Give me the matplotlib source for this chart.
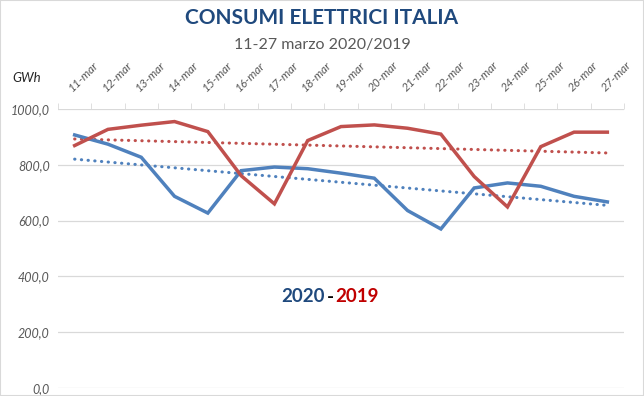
import numpy as np
import matplotlib
matplotlib.use("Agg")
import matplotlib.pyplot as plt
from matplotlib.patches import Rectangle

plt.rcParams['font.family'] = ['Lato', 'DejaVu Sans']

# data (GWh)
giorni = ['11-mar', '12-mar', '13-mar', '14-mar', '15-mar', '16-mar', '17-mar', '18-mar', '19-mar',
          '20-mar', '21-mar', '22-mar', '23-mar', '24-mar', '25-mar', '26-mar', '27-mar']
cons_2020 = [907, 874, 827, 687, 627, 779, 792, 786, 770, 752, 636, 570, 717, 735, 723, 687, 667]
cons_2019 = [869, 927, 942, 955, 919, 761, 660, 887, 937, 943, 931, 910, 758, 649, 865, 917, 917]
y_ticks = [0, 200, 400, 600, 800, 1000]

blu = '#4F81BD'
rosso = '#C0504D'
grigio = '#595959'

fig = plt.figure(figsize=(6.44, 3.96), dpi=100)
ax = fig.add_axes([58 / 644, 8 / 396, 566 / 644, 279 / 396])

x = np.arange(len(giorni))
ax.plot(x, cons_2020, color=blu, lw=2.5, solid_joinstyle='miter', zorder=3)
ax.plot(x, cons_2019, color=rosso, lw=2.5, solid_joinstyle='miter', zorder=3)

# linear trend lines (as Excel does)
for serie, col in [(cons_2020, blu), (cons_2019, rosso)]:
    m, q = np.polyfit(x, serie, 1)
    ax.plot(x, m * x + q, color=col, lw=2.2, linestyle=(0, (0.1, 2.1)),
            dash_capstyle='round', zorder=2)

ax.set_xlim(-0.5, len(giorni) - 0.5)
ax.set_ylim(0, 1000)

ax.set_yticks(y_ticks)
ax.set_yticklabels([f"{v:.1f}".replace('.', ',') for v in y_ticks],
                   fontsize=9, color=grigio, style='italic')
ax.tick_params(axis='y', length=0, pad=6)
ax.grid(axis='y', color='#D9D9D9', lw=0.9)
ax.set_axisbelow(True)

ax.xaxis.tick_top()
ax.set_xticks(x)
ax.set_xticklabels(giorni, rotation=45, ha='left', va='bottom',
                   rotation_mode='anchor', fontsize=8.5, color=grigio, style='italic')
ax.tick_params(axis='x', which='major', length=0, pad=11)
ax.set_xticks(np.arange(-0.5, len(giorni), 1), minor=True)
ax.tick_params(axis='x', which='minor', length=4, color='#D9D9D9', top=True, bottom=False)

for s in ax.spines.values():
    s.set_visible(False)

fig.text(322 / 644, 1 - 18 / 396, 'CONSUMI ELETTRICI ITALIA', ha='center', va='center',
         fontsize=15, fontweight='bold', color='#1F497D')
fig.text(322 / 644, 1 - 45 / 396, '11-27 marzo 2020/2019', ha='center', va='center',
         fontsize=11.5, color=grigio)
fig.text(12 / 644, 1 - 78 / 396, 'GWh', ha='left', va='center', fontsize=9.5,
         style='italic', color='#262626')

# "2020 - 2019" label in the middle of the chart
fig.text(330 / 644, 1 - 297 / 396, '-', ha='center', va='center', fontsize=13.5,
         fontweight='bold', color='black')
fig.text(325 / 644, 1 - 297 / 396, '2020', ha='right', va='center', fontsize=13.5,
         fontweight='bold', color='#1F497D')
fig.text(335 / 644, 1 - 297 / 396, '2019', ha='left', va='center', fontsize=13.5,
         fontweight='bold', color='#C00000')

fig.patches.append(Rectangle((0, 0), 1, 1, transform=fig.transFigure, fill=False,
                             edgecolor='#D9D9D9', lw=1.5))

fig.savefig('out.png', dpi=100)
